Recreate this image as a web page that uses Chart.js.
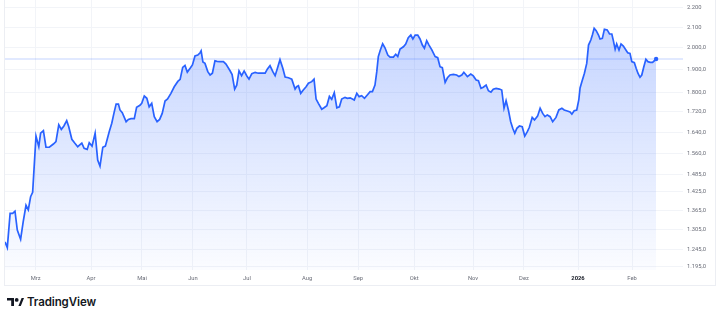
<!DOCTYPE html>
<html>
<head>
<meta charset="utf-8">
<script src="https://cdn.jsdelivr.net/npm/chart.js@4.4.1/dist/chart.umd.min.js"></script>
<style>
  body { margin: 0; background: #fff; width: 720px; height: 318px; overflow: hidden; font-family: "Inter", "Open Sans", sans-serif; }
  #wrap { position: absolute; left: 5px; top: 0; width: 710px; height: 285px; outline: 1px solid #eceef3; }
  #brand { position: absolute; left: 7px; top: 295px; height: 14px; display: flex; align-items: center; color: #131722; }
  #brand svg { margin-right: 3px; }
  #brand span { font-size: 11.5px; font-weight: 600; letter-spacing: -0.1px; }
</style>
</head>
<body>
<div id="wrap"><canvas id="priceChart"></canvas></div>
<div id="brand">
  <svg width="17" height="8" viewBox="0 0 17 8">
    <path d="M0 0h7v8H4.2V2.6H0z" fill="#131722"/>
    <circle cx="9.7" cy="1.9" r="1.9" fill="#131722"/>
    <path d="M11.4 8L14.6 0h2.4l-3.2 8z" fill="#131722"/>
  </svg>
  <span>TradingView</span>
</div>
<script>
// Handelstage (Index ab Start) und Schlusskurse
const tradingDay = [
  0.0, 0.9, 2.0, 3.0, 3.9, 4.8, 6.1, 7.1, 8.2, 9.1, 10.0, 10.8, 12.1, 13.2, 13.9, 15.0, 16.0, 17.3, 18.9, 19.9,
  21.0, 22.0, 23.0, 24.1, 24.9, 26.1, 27.3, 28.4, 30.0, 30.9, 32.1, 32.9, 34.0, 35.2, 36.2, 37.1, 38.2, 39.2, 40.0, 40.7,
  41.7, 42.6, 43.4, 44.3, 44.9, 45.8, 47.3, 48.2, 49.2, 50.5, 51.4, 52.7, 53.4, 54.4, 55.4, 56.3, 57.3, 58.3, 59.4, 60.4,
  61.4, 62.5, 63.5, 64.8, 66.1, 67.5, 68.4, 69.4, 70.3, 71.2, 72.3, 73.2, 74.2, 75.3, 76.2, 76.6, 77.3, 78.1, 79.2, 80.1,
  81.0, 82.0, 82.8, 84.0, 85.3, 86.3, 87.9, 88.7, 89.7, 90.5, 91.4, 92.4, 93.4, 94.4, 95.3, 96.4, 97.7, 98.9, 100.3, 101.6,
  102.5, 103.5, 104.6, 105.5, 106.4, 107.4, 108.5, 109.4, 110.7, 112.0, 113.3, 113.9, 114.6, 115.5, 116.5, 117.6, 118.5, 119.8, 120.7, 121.5,
  122.4, 123.7, 124.6, 125.7, 126.7, 127.6, 128.6, 129.6, 130.6, 131.5, 132.8, 133.7, 134.8, 136.4, 137.4, 138.3, 139.3, 140.4, 141.5, 142.6,
  143.5, 144.5, 145.2, 145.8, 146.6, 147.5, 148.4, 149.5, 150.4, 151.7, 152.6, 153.4, 154.3, 155.6, 156.5, 157.5, 158.5, 159.3, 160.2, 161.2,
  162.1, 163.0, 163.8, 164.7, 165.6, 166.7, 168.0, 169.0, 169.9, 170.8, 171.9, 172.8, 173.8, 175.1, 176.4, 177.3, 178.4, 179.2, 180.6, 181.9,
  182.9, 184.0, 184.9, 185.9, 186.8, 187.9, 188.8, 189.8, 190.7, 191.8, 193.1, 194.0, 194.9, 195.7, 196.6, 197.5, 198.3, 199.1, 199.9, 200.9,
  202.0, 203.0, 204.0, 204.8, 205.9, 206.8, 208.0, 209.0, 210.0, 210.9, 211.8, 212.9, 213.9, 215.2, 216.3, 217.5, 218.4, 219.6, 220.7, 221.4,
  222.3, 223.3, 224.1, 224.6, 225.3, 226.3, 227.2, 227.9, 228.8, 229.4, 230.1, 230.9, 231.8, 232.4, 233.3, 234.1, 235.2, 236.1, 237.0, 237.6,
  238.3, 238.9, 239.8, 240.6, 241.5, 242.5, 243.2, 244.1, 244.8, 245.8, 246.5, 247.2, 248.0, 248.7, 249.5, 250.3, 251.1, 252.0, 252.9, 253.6,
  254.3
];
const price = [
  1267, 1250, 1355, 1355, 1362, 1303, 1275, 1328, 1381, 1366, 1409, 1424, 1625, 1585, 1636, 1646, 1583, 1583, 1595, 1604,
  1669, 1651, 1664, 1685, 1661, 1613, 1598, 1585, 1598, 1579, 1575, 1600, 1587, 1636, 1536, 1514, 1583, 1587, 1616, 1642,
  1675, 1717, 1752, 1752, 1728, 1717, 1681, 1690, 1693, 1693, 1739, 1747, 1755, 1786, 1776, 1741, 1755, 1701, 1681, 1690,
  1714, 1765, 1773, 1797, 1825, 1848, 1857, 1910, 1919, 1889, 1906, 1921, 1962, 1966, 1977, 1986, 1934, 1928, 1891, 1876,
  1884, 1940, 1937, 1936, 1936, 1925, 1895, 1878, 1815, 1832, 1894, 1873, 1894, 1873, 1858, 1882, 1888, 1884, 1884, 1884,
  1903, 1918, 1891, 1873, 1906, 1945, 1906, 1867, 1864, 1858, 1815, 1825, 1829, 1797, 1811, 1825, 1840, 1847, 1858, 1773,
  1755, 1731, 1737, 1745, 1784, 1772, 1800, 1737, 1741, 1773, 1780, 1776, 1778, 1769, 1797, 1783, 1787, 1776, 1790, 1804,
  1804, 1832, 1891, 1959, 1990, 2019, 2000, 1966, 1957, 1957, 1970, 1959, 1994, 2005, 2018, 2048, 2061, 2042, 2061, 2061,
  2042, 2013, 1998, 2034, 2013, 1990, 1959, 1954, 1913, 1909, 1844, 1864, 1876, 1879, 1876, 1869, 1876, 1888, 1869, 1880,
  1872, 1854, 1851, 1818, 1823, 1832, 1808, 1802, 1814, 1818, 1815, 1811, 1735, 1766, 1728, 1681, 1655, 1636, 1655, 1664,
  1661, 1625, 1642, 1659, 1698, 1688, 1703, 1735, 1714, 1701, 1708, 1701, 1681, 1698, 1728, 1735, 1728, 1724, 1720, 1711,
  1725, 1728, 1769, 1820, 1847, 1884, 1928, 2013, 2037, 2061, 2094, 2082, 2061, 2042, 2045, 2089, 2086, 2066, 2066, 2034,
  1993, 2018, 1990, 2018, 2008, 1990, 1977, 1974, 1936, 1931, 1906, 1884, 1866, 1876, 1913, 1947, 1936, 1933, 1933, 1940,
  1948
];

// Monatsanfaenge (Handelstag-Index) und Beschriftung
const monthStart = [12, 33.6, 53.5, 73.4, 94.5, 118, 137.9, 159.8, 182.8, 202.7, 223.8, 244.9];
const monthLabel = ['Mrz', 'Apr', 'Mai', 'Jun', 'Jul', 'Aug', 'Sep', 'Okt', 'Nov', 'Dez', '2026', 'Feb'];

// Preisskala (logarithmisch)
const priceTicks = [2200, 2100, 2000, 1900, 1800, 1720, 1640, 1560, 1485, 1425, 1365, 1305, 1245, 1195];
const priceTickLabels = ['2.200', '2.100', '2.000,0', '1.900,0', '1.800,0', '1.720,0', '1.640,0', '1.560,0',
  '1.485,0', '1.425,0', '1.365,0', '1.305,0', '1.245,0', '1.195,0'];

const xMax = 264.8;
const lastPrice = price[price.length - 1];
const points = tradingDay.map((d, i) => ({ x: d, y: price[i] }));

// keine Extra-Abstaende durch Achsenbeschriftungen
function noPad(s) {
  s.paddingTop = 0; s.paddingBottom = 0; s.paddingLeft = 0; s.paddingRight = 0;
}

const ctx = document.getElementById('priceChart').getContext('2d');
new Chart(ctx, {
  type: 'line',
  data: {
    datasets: [{
      data: points,
      borderColor: '#2962ff',
      borderWidth: 1.7,
      tension: 0,
      fill: 'start',
      backgroundColor: function (context) {
        const chart = context.chart;
        const area = chart.chartArea;
        if (!area) return 'rgba(41,98,255,0.15)';
        const g = chart.ctx.createLinearGradient(0, area.top, 0, area.bottom);
        g.addColorStop(0, 'rgba(41,98,255,0.30)');
        g.addColorStop(1, 'rgba(41,98,255,0.02)');
        return g;
      },
      pointRadius: c => (c.dataIndex === price.length - 1 ? 2.2 : 0),
      pointBackgroundColor: '#2962ff',
      pointBorderWidth: 0,
      order: 1
    }, {
      // Linie des letzten Kurses
      data: [{ x: 0, y: lastPrice }, { x: xMax, y: lastPrice }],
      borderColor: 'rgba(41,98,255,0.28)',
      borderWidth: 1,
      pointRadius: 0,
      fill: false,
      order: 2
    }]
  },
  options: {
    responsive: true,
    maintainAspectRatio: false,
    animation: false,
    events: [],
    layout: { padding: 0, autoPadding: false },
    plugins: { legend: { display: false }, tooltip: { enabled: false } },
    scales: {
      x: {
        type: 'linear',
        bounds: 'data',
        min: 0,
        max: xMax,
        afterBuildTicks: s => { s.ticks = monthStart.map(v => ({ value: v })); },
        afterFit: s => { s.height = 15; noPad(s); },
        grid: { color: '#f2f4f8', lineWidth: 1, drawTicks: false },
        border: { display: false },
        ticks: {
          autoSkip: false,
          maxRotation: 0,
          padding: 5,
          callback: (v, i) => monthLabel[i],
          font: c => ({ family: 'Roboto', size: 5.8, weight: monthLabel[c.index] === '2026' ? 'bold' : 'normal' }),
          color: c => (monthLabel[c.index] === '2026' ? '#131722' : '#6a6d78')
        }
      },
      y: {
        type: 'logarithmic',
        position: 'right',
        bounds: 'data',
        min: 1186,
        max: 2238,
        afterBuildTicks: s => { s.ticks = priceTicks.map(v => ({ value: v })); },
        afterFit: s => { s.width = 32; noPad(s); },
        grid: { color: '#f2f4f8', lineWidth: 1, drawTicks: false },
        border: { display: false },
        ticks: {
          padding: 4,
          crossAlign: 'near',
          major: { enabled: false },
          callback: (v, i) => priceTickLabels[i],
          font: { family: 'Roboto', size: 5.8 },
          color: '#6a6d78'
        }
      }
    }
  }
});
</script>
</body>
</html>
